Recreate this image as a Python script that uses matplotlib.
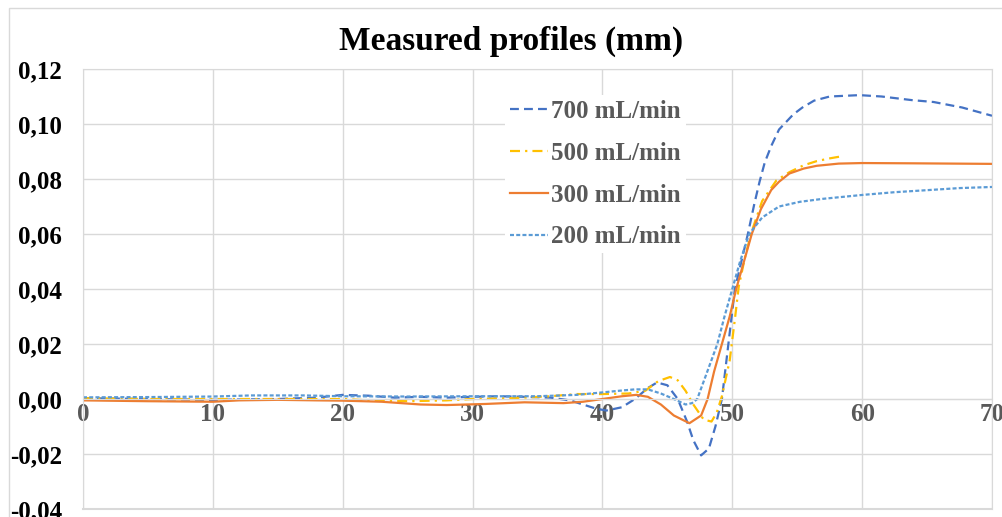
import numpy as np
import matplotlib.pyplot as plt
from matplotlib.patches import Rectangle

plt.rcParams['font.family'] = ['Liberation Serif', 'DejaVu Serif']
plt.rcParams['font.weight'] = 'bold'

# --------------------------
# values

x_700 = [0, 5, 10, 15, 18, 20, 22, 24, 26, 28, 30, 32, 34, 36, 37.5, 38.5, 39.5, 40.3, 41.5,
         42.5, 43.5, 44.2, 45.0, 45.8, 46.5, 47.0, 47.6, 48.2, 48.7, 49.2, 49.7, 50.2, 50.7,
         51.2, 51.7, 52.1, 52.5, 53.0, 53.6, 54.1, 54.7, 55.4, 56.3, 57.5, 59.8, 61.5, 63.8,
         65.5, 67.7, 70]
y_700 = [0.0003, 0.0, -0.0003, 0.0, 0.0005, 0.0015, 0.0012, 0.0005, 0.0008, 0.0005, 0.0008,
         0.001, 0.0008, 0.0005, -0.0005, -0.002, -0.0035, -0.0042, -0.003,
         0.0, 0.004, 0.006, 0.005, 0.0, -0.008, -0.015, -0.0205, -0.018, -0.01, 0.0, 0.02, 0.04,
         0.05, 0.06, 0.071, 0.079, 0.086, 0.092, 0.098, 0.1005, 0.1035, 0.106, 0.1085, 0.110,
         0.1105, 0.110, 0.1087, 0.108, 0.106, 0.103]

x_500 = [0, 5, 10, 15, 20, 22, 25, 28, 30, 33, 36, 38, 40, 42, 43.3, 44.3, 45.2, 45.8, 46.4,
         47.0, 47.8, 48.4, 48.8, 49.2, 49.8, 50.2, 50.5, 51.0, 51.5, 52.3, 53.4, 54.4, 55.5,
         56.5, 57.5, 58.6]
y_500 = [0.0003, 0.0, 0.0, 0.0, 0.0, -0.0005, -0.0008, -0.0005, 0.0, 0.0003, 0.001, 0.0018,
         0.0018, 0.002, 0.003, 0.0065, 0.008, 0.0068, 0.003,
         -0.002, -0.0075, -0.0082, -0.005, 0.001, 0.014, 0.029, 0.041, 0.052, 0.061, 0.072,
         0.0795, 0.0825, 0.085, 0.0865, 0.0875, 0.0884]

x_300 = [0, 5, 10, 12, 15, 18, 20, 23, 26, 28, 31, 34, 37, 38.5, 40, 41.5, 42.6, 43.5, 44.5,
         45.5, 46.7, 47.6, 48.1, 48.6, 49.2, 49.8, 50.3, 50.9, 51.5, 52.2, 53.0, 53.6, 54.4,
         55.5, 56.5, 58.2, 60, 64, 67, 70]
y_300 = [-0.0005, -0.0008, -0.001, -0.0005, -0.0003, -0.0005, -0.0006, -0.001, -0.002, -0.0022,
         -0.0018, -0.0012, -0.0015, -0.001, 0.0, 0.001, 0.0015, 0.0008, -0.002,
         -0.006, -0.0088, -0.006, 0.0, 0.01, 0.02, 0.03, 0.04, 0.05, 0.06, 0.069, 0.076, 0.079,
         0.082, 0.0838, 0.0848, 0.0856, 0.0858, 0.0857, 0.0856, 0.0855]

x_200 = [0, 5, 10, 13, 17, 20, 25, 30, 35, 38, 40, 41.3, 42.5, 43.5, 44.5, 45.5, 46.4, 46.9,
         47.3, 48.0, 48.85, 49.4, 50.0, 50.6, 51.3, 52.3, 53.6, 55.2, 57, 60, 62.5, 65.2, 67.5, 70]
y_200 = [0.0006, 0.0007, 0.0009, 0.0013, 0.0013, 0.001, 0.0009, 0.001, 0.001, 0.0015, 0.0024,
         0.003, 0.0035, 0.0035, 0.002, 0.0, -0.002, -0.0015,
         0.0, 0.009, 0.02, 0.03, 0.04, 0.05, 0.06, 0.066, 0.070, 0.0717, 0.0728, 0.0742, 0.0752,
         0.0760, 0.0767, 0.0771]

series = ["700 mL/min", "500 mL/min", "300 mL/min", "200 mL/min"]
xticks = [0, 10, 20, 30, 40, 50, 60, 70]
yticks = [-0.04, -0.02, 0.00, 0.02, 0.04, 0.06, 0.08, 0.10, 0.12]

# --------------------------

fig = plt.figure(figsize=(10.02, 5.17), dpi=100)
ax = fig.add_axes([83 / 1002, 8 / 517, 909 / 1002, 440 / 517])

lw = 1.6
ax.plot(x_700, y_700, color="#4472C4", lw=lw, dashes=(4, 2.3), label=series[0])
ax.plot(x_500, y_500, color="#FFC000", lw=lw, dashes=(4.5, 2.3, 1, 2.3), label=series[1])
ax.plot(x_300, y_300, color="#ED7D31", lw=lw, label=series[2])
ax.plot(x_200, y_200, color="#5B9BD5", lw=lw, dashes=(1.8, 1), label=series[3])

ax.set_xlim(0, 70)
ax.set_ylim(-0.04, 0.12)
ax.set_xticks(xticks)
ax.set_yticks(yticks)
ax.set_xticklabels([str(v) for v in xticks])
ax.set_yticklabels([f"{v:.2f}".replace(".", ",") for v in yticks])
ax.grid(True, color="#D9D9D9", lw=1)
ax.set_axisbelow(True)

for s in ["left", "right", "top", "bottom"]:
    ax.spines[s].set_color("#D9D9D9")
ax.spines["bottom"].set_position(("data", 0))
ax.axhline(-0.04, color="#D9D9D9", lw=1.5, clip_on=False)

ax.tick_params(axis="both", length=0)
ax.tick_params(axis="x", pad=3, labelsize=18, labelcolor="#595959")
ax.tick_params(axis="y", pad=15, labelsize=18, labelcolor="black")
for t in ax.get_xticklabels() + ax.get_yticklabels():
    t.set_fontweight("bold")
    t.set_clip_on(False)

fig.text(511 / 1002, 1 - 41 / 517, "Measured profiles (mm)", ha="center", va="center",
         fontsize=24, fontweight="bold")

fig.patches.append(Rectangle((9 / 1002, -0.1), 1.2, 0.1 + 1 - 8 / 517, transform=fig.transFigure,
                             fill=False, edgecolor="#D9D9D9", lw=1))

leg = ax.legend(loc="upper left", bbox_to_anchor=(505 / 1002, 1 - 95 / 517),
                bbox_transform=fig.transFigure, frameon=True, fancybox=False,
                edgecolor="none", facecolor="white", framealpha=1,
                prop={"size": 18, "weight": "bold"}, handlelength=1.5,
                handletextpad=0.15, labelspacing=0.75, borderpad=0.2, borderaxespad=0)
for t in leg.get_texts():
    t.set_color("#595959")

fig.savefig("out.png", dpi=100)
